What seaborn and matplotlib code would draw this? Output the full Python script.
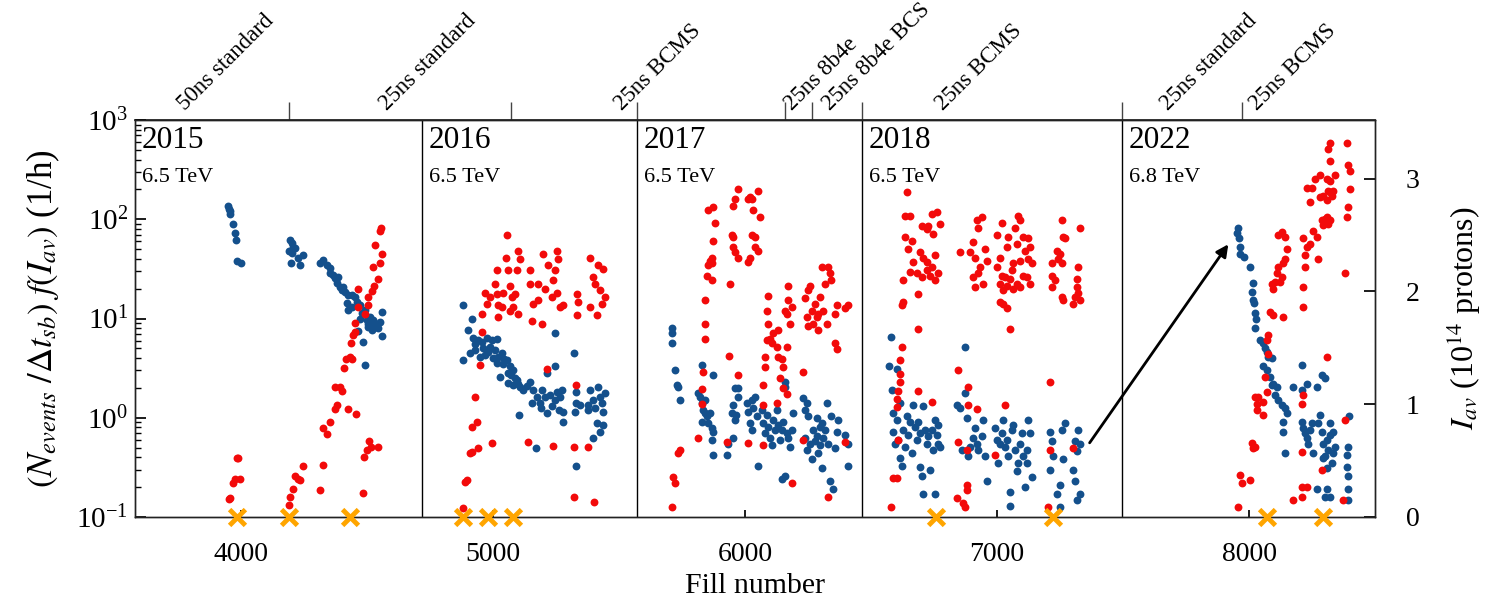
import numpy as np
import pandas as pd
import matplotlib
matplotlib.use("Agg")
import matplotlib.pyplot as plt
import matplotlib.transforms as mtransforms
import seaborn as sns

sns.set_theme(style="white")
plt.rcParams['font.family'] = ['Liberation Serif', 'DejaVu Serif']
plt.rcParams['mathtext.fontset'] = 'stix'
plt.rcParams['text.color'] = 'black'
plt.rcParams['axes.labelcolor'] = 'black'
plt.rcParams['xtick.color'] = 'black'
plt.rcParams['ytick.color'] = 'black'

# ---------------- data (fill number, normalised event rate) ----------------
blue_fill_2015 = [3950, 3953, 3955, 3957, 3969, 3976, 3981, 3985, 3998,
                  4194, 4201, 4207, 4190, 4214, 4201, 4227, 4247, 4198, 4234,
                  4313, 4326, 4340, 4353, 4353, 4366, 4373, 4379, 4386, 4393, 4399, 4406, 4413, 4426, 4439,
                  4452, 4419, 4426, 4439, 4459, 4472, 4479, 4472, 4492, 4498, 4505, 4512, 4518, 4525, 4532,
                  4538, 4545, 4551, 4558, 4558, 4463, 4485, 4492, 4505, 4518]
blue_rate_2015 = [135, 128, 120, 112, 89, 73, 62, 38, 36,
                  62, 57, 52, 48, 51, 46, 41, 44, 36, 35,
                  36, 39, 35, 32, 28.5, 27.4, 25.4, 22.6, 26.4, 20.9, 19.4, 20.9, 18.6, 17.3, 17.3,
                  16.6, 14.2, 12.2, 13.2, 14.8, 13.7, 11.3, 10, 12.2, 9.7, 8.9, 10.4, 8.6, 9.7, 8.3,
                  8.9, 8.0, 9.3, 11.7, 6.6, 7.4, 5.8, 3.4, 8.3, 7.7]

blue_fill_2016 = [4882, 4915, 4902, 4922, 4942, 4955, 4975, 4994, 5014, 4882, 4908, 4928, 4948, 4968,
                  4988, 5008, 5021, 5034, 5041, 5054, 5067, 5061, 5080, 5028, 5094, 5107, 5061, 5080,
                  5104, 5147, 5160, 5173, 5153, 5186, 5193, 5206, 5213, 5226, 5246, 5252, 5266, 5272,
                  5279, 5279, 5246, 5213, 5246, 5170, 5321, 5329, 5329, 5325, 5329, 5385, 5398, 5418,
                  5424, 5431, 5444, 5438, 5411, 5424, 5398, 5438, 5378, 5405, 5378, 5345,
                  4930, 4960, 4980, 5000, 5015, 5045, 5070, 5088, 5100, 5120, 5135, 5190, 5235, 5260]
blue_rate_2016 = [13.7, 9.8, 7.6, 6.3, 6.1, 5.8, 6.3, 6.1, 6.2, 3.8, 4.5, 4.8, 4.1, 4.3,
                  5.2, 4.8, 4.1, 4.5, 3.5, 3.8, 3.3, 2.8, 3.0, 2.6, 2.4, 2.06, 2.26, 2.14,
                  1.07, 2.3, 1.9, 1.6, 1.4, 1.4, 1.9, 1.63, 1.11, 1.7, 1.5, 1.83, 1.63, 1.9,
                  1.15, 0.91, 7.1, 2.8, 3.3, 0.49, 4.5, 1.83, 1.4, 1.15, 0.33, 1.9, 1.5, 2.06,
                  1.63, 1.4, 1.76, 1.15, 0.88, 0.72, 0.62, 0.85, 1.35, 1.25, 1.2, 1.35,
                  5.5, 5.0, 4.6, 4.0, 3.6, 3.9, 2.7, 2.5, 2.2, 1.9, 2.1, 1.25, 1.3, 1.2]

blue_fill_2017 = [5709, 5711, 5711, 5722, 5728, 5735, 5742, 5828, 5814, 5821, 5828, 5834, 5841, 5847,
                  5828, 5854, 5867, 5874, 5867, 5874, 5874, 5841, 5861, 5927, 5933, 5953, 5947, 5953,
                  5960, 5973, 5973, 5966, 5960, 6006, 6013, 6019, 6026, 6033, 6039, 6046, 6026, 6052,
                  6066, 6072, 6079, 6086, 6092, 6099, 6105, 6112, 6119, 6125, 6132, 6139, 6145, 6158,
                  6158, 6158, 6152, 6165, 6172, 6178, 6185, 6191, 6145, 6231, 6238, 6244, 6251, 6238,
                  6244, 6257, 6264, 6271, 6277, 6284, 6291, 6297, 6304, 6304, 6310, 6317, 6324, 6330,
                  6337, 6343, 6350, 6357, 6363, 6370, 6396, 6410, 6410, 6284, 6297]
blue_rate_2017 = [8.0, 7.1, 5.6, 3.0, 2.14, 2.06, 1.5, 3.4, 1.76, 1.63, 1.4, 1.2, 1.11, 1.03,
                  0.91, 0.88, 0.78, 0.72, 0.60, 0.42, 2.7, 1.5, 1.11, 0.42, 0.55, 0.62, 1.11, 1.35,
                  1.98, 1.98, 1.63, 1.07, 0.95, 1.4, 1.15, 0.88, 1.5, 1.25, 1.63, 1.03, 0.75, 0.33,
                  1.2, 0.88, 0.70, 1.07, 0.81, 0.62, 0.53, 0.95, 0.75, 1.2, 0.85, 0.60, 0.24, 0.26,
                  2.3, 2.06, 0.91, 0.70, 0.62, 0.51, 0.75, 1.11, 0.75, 1.57, 1.2, 1.4, 1.03, 0.62,
                  0.47, 0.55, 0.38, 0.75, 0.58, 0.65, 0.44, 0.53, 0.31, 0.88, 0.62, 0.75, 1.4, 0.55,
                  0.23, 1.03, 0.19, 0.49, 0.72, 0.95, 0.67, 0.55, 0.33, 0.99, 0.81]

blue_fill_2018 = [6578, 6572, 6604, 6582, 6615, 6588, 6602, 6588, 6608, 6615, 6621, 6595, 6628, 6641,
                  6654, 6648, 6635, 6661, 6668, 6674, 6681, 6688, 6694, 6694, 6701, 6707, 6714, 6721,
                  6727, 6734, 6740, 6747, 6754, 6754, 6760, 6767, 6774, 6767, 6705,
                  6873, 6840, 6853, 6873, 6880, 6859, 6886, 6893, 6906, 6912, 6919, 6926, 6946, 6939,
                  6952, 6959, 6992, 6998, 7005, 7012, 7018, 7025, 7032, 7038, 7045, 7051, 7051, 7058,
                  7065, 7071, 7078, 7084, 7091, 7098, 7104, 7111, 7117, 7124, 7131, 7137, 7117,
                  7210, 7217, 7223, 7210, 7237, 7250, 7250, 7256, 7270, 7263, 7303, 7309, 7316, 7329,
                  7309, 7322, 7329, 7316]
blue_rate_2018 = [6.5, 3.3, 3.1, 1.9, 1.4, 1.11, 0.95, 0.72, 0.60, 0.39, 0.33, 0.55, 0.75, 1.03,
                  0.91, 0.67, 0.51, 0.44, 1.35, 0.81, 0.60, 0.91, 0.70, 0.32, 0.26, 0.17, 0.75, 0.55,
                  0.65, 0.30, 0.75, 0.47, 0.95, 0.17, 0.67, 0.85, 0.51, 0.55, 1.30,
                  5.2, 1.35, 1.25, 1.76, 0.99, 0.47, 0.41, 0.51, 0.62, 0.78, 0.55, 0.47, 0.95, 0.65,
                  0.41, 0.23, 0.78, 0.60, 0.35, 0.55, 0.70, 0.95, 0.51, 0.60, 0.41, 0.18, 0.13, 0.75,
                  0.85, 0.47, 0.29, 0.35, 0.55, 0.70, 0.41, 0.20, 0.35, 0.95, 0.70, 0.25, 0.47,
                  0.72, 0.58, 0.41, 0.30, 0.17, 0.21, 0.126, 0.75, 0.88, 0.38, 0.30, 0.23, 0.15, 0.17,
                  0.58, 0.75, 0.55, 0.46]

blue_fill_2022 = [7958, 7954, 7962, 7964, 7964, 7978, 8004, 8017, 8011, 8017, 8020, 8024, 8028, 8024,
                  8044, 8057, 8064, 8070, 8077, 8090, 8057, 8070, 8083, 8097, 8110, 8103, 8116, 8130,
                  8143, 8150, 8136, 8136, 8143, 8090, 8176, 8209, 8209, 8229, 8269, 8289, 8302, 8209,
                  8216, 8222, 8229, 8235, 8242, 8249, 8255, 8275, 8282, 8289, 8295, 8302, 8308, 8315,
                  8322, 8322, 8328, 8335, 8341, 8295, 8308, 8269, 8308, 8302, 8322, 8335, 8388, 8394,
                  8388, 8394, 8394, 8394, 8398]
blue_rate_2022 = [81, 72, 64, 53, 45, 42, 33, 22.6, 18.6, 15.4, 14.2, 11.3, 10, 8.0,
                  6.1, 5.6, 5.0, 4.6, 4.1, 4.0, 3.3, 3.0, 2.6, 2.2, 2.06, 1.69, 1.5, 1.35,
                  1.25, 1.11, 0.91, 0.72, 0.44, 2.14, 2.06, 3.4, 1.9, 2.2, 2.06, 2.7, 2.5, 0.91,
                  0.78, 0.70, 0.62, 0.55, 0.75, 0.88, 0.44, 0.88, 1.07, 0.72, 0.55, 0.41, 0.60, 0.47,
                  0.67, 0.88, 0.35, 0.44, 0.51, 0.39, 0.31, 0.19, 0.19, 0.16, 0.16, 0.72, 0.42, 0.51,
                  0.32, 0.26, 0.19, 0.15, 1.04]

# ---------------- data (fill number, average intensity I_av, 1e14 p) ----------------
red_fill_2015 = [3953, 3958, 3969, 3976, 3996, 3982, 3989, 4190, 4194, 4207, 4214, 4227, 4234, 4247,
                 4313, 4326, 4326, 4340, 4353, 4373, 4379, 4373, 4393, 4402, 4423, 4455, 4410, 4416,
                 4432, 4442, 4436, 4446, 4452, 4452, 4463, 4465, 4485, 4489, 4498, 4508, 4516, 4545,
                 4505, 4518, 4529, 4545, 4525, 4551, 4532, 4558, 4551, 4555, 4492, 4505]
red_iav_2015 = [0.16, 0.17, 0.30, 0.34, 0.34, 0.52, 0.52, 0.11, 0.18, 0.25, 0.36, 0.34, 0.33, 0.45,
                0.24, 0.46, 0.79, 0.74, 0.84, 0.96, 0.99, 1.15, 1.15, 1.12, 0.96, 0.91, 1.32, 1.40,
                1.42, 1.40, 1.54, 1.61, 1.64, 1.72, 1.86, 2.02, 0.21, 0.53, 0.59, 0.67, 0.62, 0.62,
                1.95, 2.00, 2.05, 2.11, 2.22, 2.25, 2.41, 2.33, 2.54, 2.56, 1.80, 1.88]

red_fill_2016 = [4882, 4889, 4895, 4908, 4915, 4915, 4935, 4928, 4942, 4994, 4948, 4955, 4955, 4968,
                 4975, 4988, 5008, 5014, 5021, 5021, 5014, 5034, 5041, 5051, 5057, 5061, 5067, 5074,
                 5080, 5087, 5094, 5100, 5107, 5100, 5067, 5147, 5147, 5153, 5160, 5180, 5180, 5193,
                 5199, 5206, 5219, 5233, 5239, 5246, 5252, 5252, 5259, 5266, 5279, 5140, 5239, 5321,
                 5378, 5321, 5400, 5329, 5213, 5332, 5338, 5332, 5385, 5398, 5405, 5418, 5424, 5431,
                 5438, 5385, 5411, 5444]
red_iav_2016 = [0.077, 0.313, 0.328, 0.564, 0.578, 0.80, 0.84, 1.065, 0.608, 0.652, 1.345, 1.64, 1.80, 1.99,
                1.89, 1.95, 2.07, 1.98, 1.77, 1.88, 2.19, 1.86, 1.99, 2.30, 2.50, 2.19, 2.05, 1.95,
                1.86, 1.98, 2.19, 2.36, 2.29, 1.80, 1.83, 2.19, 2.07, 1.74, 1.89, 2.07, 1.92, 1.71,
                2.33, 2.02, 2.23, 1.95, 2.10, 2.19, 2.36, 1.99, 2.29, 1.86, 1.88, 0.667, 0.63, 0.62,
                0.62, 0.18, 0.136, 1.17, 1.316, 1.98, 1.91, 1.79, 2.30, 2.13, 2.07, 2.23, 2.01, 1.89,
                2.20, 1.86, 1.79, 1.95]

red_fill_2017 = [5711, 5715, 5722, 5735, 5742, 5814, 5828, 5834, 5828, 5841, 5841, 5841, 5847, 5854,
                 5861, 5867, 5867, 5854, 5874, 5880, 5874, 5867, 5936, 5940, 5947, 5953, 5953, 5960,
                 5953, 5973, 5960, 5973, 5973, 5927, 6013, 6019, 6026, 6033, 6052, 6059, 6026, 6039,
                 6039, 6052, 6019, 6013, 6013, 6072, 6072, 6072, 6079, 6079, 6086, 6092, 6086, 6092,
                 6099, 6105, 6112, 6132, 6125, 6132, 6145, 6152, 6139, 6152, 6165, 6125, 6158, 6165,
                 6172, 6172, 6178, 6185, 6165, 6185, 6231, 6231, 6238, 6244, 6251, 6251, 6257, 6264,
                 6271, 6277, 6284, 6291, 6291, 6297, 6304, 6310, 6317, 6324, 6330, 6337, 6343, 6357,
                 6363, 6357, 6363, 6396, 6410, 6396, 6330]
red_iav_2017 = [0.092, 0.357, 0.298, 0.564, 0.593, 0.696, 1.139, 1.287, 1.006, 1.581, 1.714, 1.92, 2.14, 2.23,
                2.27, 2.30, 2.10, 2.72, 2.75, 2.61, 2.45, 2.25, 1.43, 2.07, 2.50, 2.48, 2.39, 2.82,
                2.76, 2.91, 2.35, 2.30, 1.26, 0.667, 2.82, 2.84, 2.82, 2.72, 2.89, 2.66, 2.50, 2.48,
                2.39, 2.36, 2.30, 2.26, 0.66, 0.637, 0.99, 1.17, 1.33, 1.42, 1.57, 1.715, 1.83, 1.96,
                1.58, 1.54, 1.63, 1.66, 1.51, 1.42, 1.40, 1.33, 1.23, 1.14, 1.09, 1.01, 1.83, 1.80,
                1.92, 2.05, 1.71, 1.86, 1.51, 0.298, 1.287, 0.68, 1.94, 1.77, 1.69, 2.01, 2.05, 1.83,
                1.715, 1.89, 1.77, 1.80, 1.655, 1.95, 2.22, 1.83, 2.07, 1.715, 2.22, 2.16, 2.10, 1.80,
                1.88, 1.54, 1.49, 1.85, 1.88, 0.667, 0.18]

red_fill_2018 = [6641, 6635, 6654, 6701, 6727, 6740, 6760, 6774, 6747, 6721, 6635, 6661, 6648, 6694,
                 6707, 6721, 6740, 6754, 6668, 6654, 6681, 6701, 6721, 6734, 6754, 6767, 6628, 6628,
                 6621, 6688, 6688, 6621, 6615, 6615, 6615, 6608, 6602, 6602, 6608, 6588, 6602, 6578,
                 6688, 6740, 6853, 6893, 6906, 6919, 6939, 6926, 6952, 6959, 6912, 6932, 6926, 6906,
                 6946, 6912, 6846, 6886, 6886, 6919, 6846, 6880, 6880, 6880, 6840, 6866, 6873, 6992,
                 7032, 7018, 6998, 7012, 6998, 7045, 7038, 7018, 7032, 7012, 7025, 7038, 7051, 7058,
                 7065, 7071, 7084, 7091, 7078, 7091, 7104, 7111, 7124, 7131, 7124, 7137, 7104, 7117,
                 7131, 7091, 7078, 7065, 7012, 7025, 7038, 7051, 7256, 7263, 7270, 7237, 7250, 7243,
                 7256, 7217, 7217, 7230, 7217, 7256, 7263, 7329, 7322, 7316, 7316, 7322, 7309, 7329,
                 7303, 7210, 7210, 7303, 7203]
red_iav_2018 = [2.88, 2.67, 2.67, 2.58, 2.58, 2.69, 2.70, 2.60, 2.51, 2.55, 2.48, 2.45, 2.38, 2.35,
                2.30, 2.26, 2.22, 2.32, 2.26, 2.17, 2.16, 2.13, 2.19, 2.14, 2.10, 2.16, 2.10, 1.91,
                1.88, 1.98, 1.67, 1.51, 1.39, 1.27, 1.20, 1.12, 1.05, 0.976, 0.682, 0.342, 0.342, 0.092,
                1.12, 1.02, 2.35, 2.35, 2.44, 2.63, 2.66, 2.56, 2.38, 2.27, 2.30, 2.22, 2.16, 2.13,
                2.07, 2.04, 1.30, 1.15, 0.99, 0.96, 0.667, 0.593, 0.284, 0.24, 0.165, 0.121, 0.092, 0.549,
                0.99, 2.61, 2.50, 2.30, 2.22, 2.48, 2.39, 2.14, 2.13, 2.07, 2.01, 2.05, 2.11, 2.19,
                2.25, 2.56, 2.67, 2.63, 2.42, 2.27, 2.48, 2.36, 2.47, 2.39, 2.29, 2.25, 2.14, 2.13,
                2.07, 2.04, 2.07, 2.02, 1.91, 1.89, 1.85, 1.67, 2.63, 2.48, 2.47, 2.36, 2.33, 2.29,
                2.25, 2.25, 2.14, 2.10, 2.04, 1.95, 1.92, 2.56, 2.22, 2.11, 2.04, 1.99, 1.95, 1.92,
                1.89, 1.20, 0.593, 0.608, 0.092]

red_fill_2022 = [7958, 7964, 7971, 8004, 8011, 8017, 8024, 8024, 8030, 8037, 8030, 8057, 8057, 8064,
                 8070, 8077, 8070, 8077, 8083, 8097, 8090, 8097, 8103, 8110, 8116, 8123, 8130, 8136,
                 8143, 8136, 8116, 8130, 8143, 8150, 8209, 8209, 8176, 8209, 8229, 8209, 8216, 8308,
                 8289, 8374, 8381, 8216, 8216, 8222, 8222, 8229, 8216, 8242, 8255, 8269, 8275, 8282,
                 8249, 8229, 8262, 8242, 8289, 8295, 8302, 8308, 8315, 8322, 8308, 8315, 8322, 8328,
                 8335, 8341, 8322, 8315, 8322, 8322, 8308, 8388, 8394, 8401, 8401, 8394, 8388, 8381,
                 8282, 8295]
red_iav_2022 = [0.092, 0.372, 0.298, 0.328, 0.652, 0.608, 0.622, 1.065, 1.006, 1.065, 0.947, 1.021, 0.903, 1.242,
                1.109, 1.449, 1.566, 1.61, 1.82, 1.79, 2.07, 2.02, 2.08, 2.16, 2.22, 2.08, 2.13, 2.25,
                2.29, 1.77, 2.50, 2.53, 2.48, 2.38, 0.578, 0.269, 0.15, 0.18, 0.269, 1.006, 1.08, 1.42,
                0.416, 0.15, 0.858, 1.86, 2.04, 2.22, 2.32, 2.39, 2.47, 2.42, 2.54, 2.48, 2.29, 2.84,
                2.92, 2.92, 2.997, 2.79, 2.63, 2.585, 2.64, 2.66, 2.60, 2.63, 2.81, 2.89, 2.88, 2.85,
                2.89, 3.03, 3.16, 3.26, 3.32, 2.98, 3.00, 3.32, 3.12, 3.07, 2.91, 2.75, 2.66, 2.16,
                3.03, 2.85]

# fills with special events (orange crosses)
cross_fill = [3982, 4190, 4432, 4882, 4981, 5080, 6758, 7223, 8070, 8295]

# year panels
year_start = [3579, 4718, 5571, 6464, 7496]
year_names = ["2015", "2016", "2017", "2018", "2022"]
year_energy = ["6.5 TeV", "6.5 TeV", "6.5 TeV", "6.5 TeV", "6.8 TeV"]

# beam-type boundaries (top axis) and labels
beam_bounds = [4190, 5071, 5571, 6159, 6266, 6464, 7496, 7972]
beam_label_x = [3778, 4579, 5512, 6187, 6337, 6786, 7679, 8032]
beam_labels = ["50ns standard", "25ns standard", "25ns BCMS", "25ns 8b4e", "25ns 8b4e BCS",
               "25ns BCMS", "25ns standard", "25ns BCMS"]

# ---------------- build tables ----------------
blue_df = pd.DataFrame({
    "fill": blue_fill_2015 + blue_fill_2016 + blue_fill_2017 + blue_fill_2018 + blue_fill_2022,
    "rate": blue_rate_2015 + blue_rate_2016 + blue_rate_2017 + blue_rate_2018 + blue_rate_2022,
})
red_df = pd.DataFrame({
    "fill": red_fill_2015 + red_fill_2016 + red_fill_2017 + red_fill_2018 + red_fill_2022,
    "iav": red_iav_2015 + red_iav_2016 + red_iav_2017 + red_iav_2018 + red_iav_2022,
})
cross_df = pd.DataFrame({"fill": cross_fill, "iav": [0.0] * len(cross_fill)})

BLUE = "#14508c"
RED = "#f20a0a"

fig = plt.figure(figsize=(14.93, 6.08), dpi=100)
ax = fig.add_axes([0.0904, 0.1497, 0.8306, 0.6529])
ax2 = ax.twinx()

sns.scatterplot(data=blue_df, x="fill", y="rate", ax=ax, color=BLUE, s=32,
                linewidth=0, legend=False, zorder=3)
sns.scatterplot(data=red_df, x="fill", y="iav", ax=ax2, color=RED, s=32,
                linewidth=0, legend=False, zorder=3)
sns.scatterplot(data=cross_df, x="fill", y="iav", ax=ax2, color="#ffa500", marker="x",
                s=130, linewidth=3.5, legend=False, zorder=5, clip_on=False)

ax.set_yscale("log")
ax.set_ylim(0.1, 1000)
ax.set_xlim(3579, 8500)
ax2.set_ylim(0, 3.52)
ax2.set_yticks([0, 1, 2, 3])
ax.set_xticks([4000, 5000, 6000, 7000, 8000])

for x in year_start[1:]:
    ax.axvline(x, color="black", lw=1.0, zorder=2)

blend = mtransforms.blended_transform_factory(ax.transData, ax.transAxes)
for x, name, en in zip(year_start, year_names, year_energy):
    ax.text(x + 26, 0.985, name, transform=blend, ha="left", va="top", fontsize=22.5)
    ax.text(x + 26, 0.88, en, transform=blend, ha="left", va="top", fontsize=16)

for x, lab in zip(beam_label_x, beam_labels):
    ax.text(x, 1.022, lab, transform=blend, rotation=45, rotation_mode="anchor",
            ha="left", va="baseline", fontsize=16.5, clip_on=False)

sec = ax.secondary_xaxis("top")
sec.set_xticks(beam_bounds)
sec.set_xticklabels([])
sec.tick_params(direction="out", length=13, width=1.0, color="#444444")

ax.annotate("", xy=(7924, 59), xytext=(7361, 0.53),
            arrowprops=dict(arrowstyle="-|>", color="black", lw=2, mutation_scale=18))

ax.tick_params(axis="y", which="major", direction="in", length=8, labelsize=21, left=True, right=False, pad=5)
ax.tick_params(axis="y", which="minor", direction="in", length=4, left=True, right=False)
ax.tick_params(axis="x", which="both", direction="in", length=5, labelsize=20, bottom=True, top=False, pad=18)
ax2.tick_params(axis="y", direction="in", length=8, labelsize=20, right=True, pad=22)

ax.set_xlabel("Fill number", fontsize=21.5, labelpad=4)
ax.set_ylabel(r"$(N_{events}\ /\Delta t_{sb})\ f(I_{av})$ (1/h)", fontsize=25, labelpad=10)
ax2.set_ylabel(r"$I_{av}$ (10$^{14}$ protons)", fontsize=23, labelpad=18)

for a in (ax, ax2):
    for sp in a.spines.values():
        sp.set_color("#222222")
        sp.set_linewidth(1.0)

fig.savefig("out.png", dpi=100, facecolor="white")
